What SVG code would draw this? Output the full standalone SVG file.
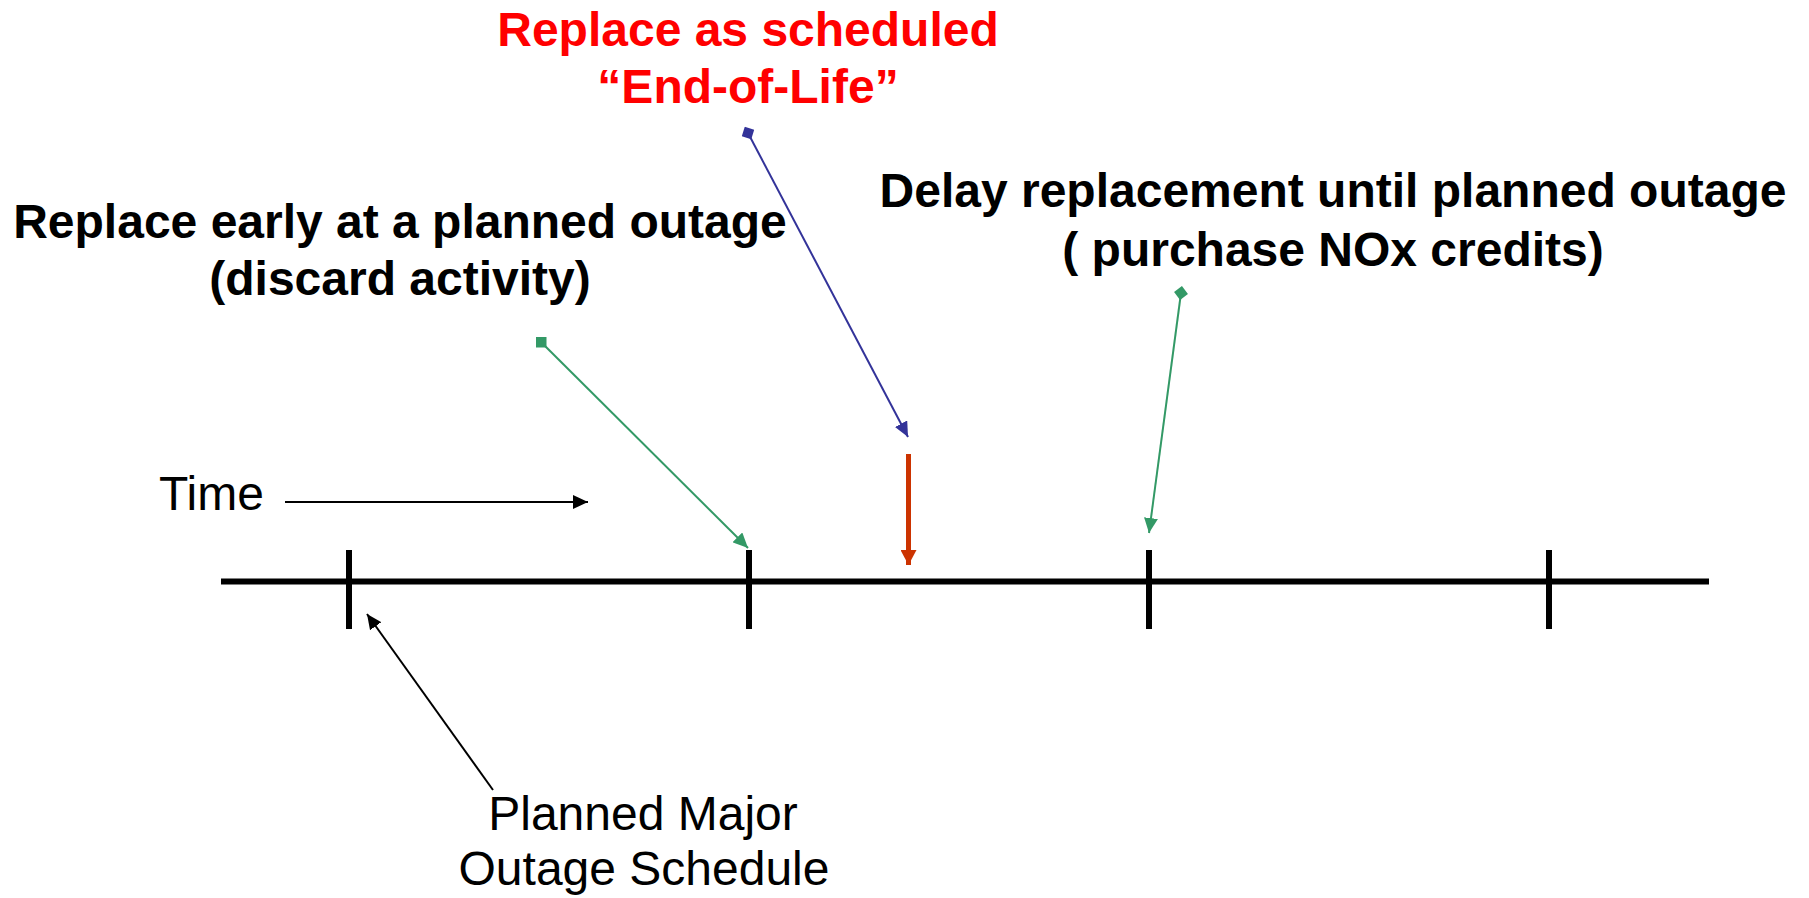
<svg xmlns="http://www.w3.org/2000/svg" width="1809" height="898" viewBox="0 0 1809 898">
  <style>
    text { font-family: "Liberation Sans", Arial, sans-serif; font-size: 48px; }
    .bold { font-weight: bold; fill: #000; text-anchor: middle; }
    .red { font-weight: bold; fill: #FF0000; text-anchor: middle; }
    .plain { fill: #000; }
    .axis { stroke: #000; stroke-width: 6; fill: none; }
    .thin { stroke-width: 2; fill: none; }
  </style>
  <defs>
    <marker id="tipBlack" markerUnits="userSpaceOnUse" markerWidth="16" markerHeight="14" refX="15" refY="7" orient="auto">
      <path d="M0,0 L15,7 L0,14 Z" fill="#000"/>
    </marker>
    <marker id="tipBlue" markerUnits="userSpaceOnUse" markerWidth="16" markerHeight="14" refX="15" refY="7" orient="auto">
      <path d="M0,0 L15,7 L0,14 Z" fill="#333399"/>
    </marker>
    <marker id="tipGreen" markerUnits="userSpaceOnUse" markerWidth="16" markerHeight="14" refX="15" refY="7" orient="auto">
      <path d="M0,0 L15,7 L0,14 Z" fill="#339966"/>
    </marker>
    <marker id="tipRed" markerUnits="userSpaceOnUse" markerWidth="16" markerHeight="16" refX="15" refY="8" orient="auto">
      <path d="M0,0 L15,8 L0,16 Z" fill="#CC3300"/>
    </marker>
    <marker id="diamondBlue" markerUnits="userSpaceOnUse" markerWidth="14" markerHeight="14" refX="7" refY="7" orient="auto">
      <path d="M0,7 L7,0 L14,7 L7,14 Z" fill="#333399"/>
    </marker>
    <marker id="diamondGreen" markerUnits="userSpaceOnUse" markerWidth="14" markerHeight="14" refX="7" refY="7" orient="auto">
      <path d="M0,7 L7,0 L14,7 L7,14 Z" fill="#339966"/>
    </marker>
    <marker id="squareGreen" markerUnits="userSpaceOnUse" markerWidth="11" markerHeight="11" refX="5.5" refY="5.5" orient="0">
      <rect x="0" y="0" width="11" height="11" fill="#339966"/>
    </marker>
  </defs>

  <!-- time axis with planned outage ticks -->
  <g id="timeline">
    <line class="axis" x1="221" y1="581.5" x2="1709" y2="581.5"/>
    <line class="axis" x1="349" y1="550" x2="349" y2="629"/>
    <line class="axis" x1="749" y1="550" x2="749" y2="629"/>
    <line class="axis" x1="1149" y1="550" x2="1149" y2="629"/>
    <line class="axis" x1="1549" y1="550" x2="1549" y2="629"/>
  </g>

  <g id="label-time">
    <text class="plain" x="159" y="510">Time</text>
  </g>

  <g id="label-end-of-life">
    <text class="red" x="748" y="46">Replace as scheduled</text>
    <text class="red" x="748" y="103">“End-of-Life”</text>
  </g>

  <g id="label-replace-early">
    <text class="bold" x="400" y="238">Replace early at a planned outage</text>
    <text class="bold" x="400" y="295">(discard activity)</text>
  </g>

  <g id="label-delay">
    <text class="bold" x="1333" y="207">Delay replacement until planned outage</text>
    <text class="bold" x="1333" y="266">( purchase NOx credits)</text>
  </g>

  <g id="label-outage-schedule">
    <text class="plain" x="643" y="830" text-anchor="middle">Planned Major</text>
    <text class="plain" x="644" y="885" text-anchor="middle">Outage Schedule</text>
  </g>

  <!-- connectors -->
  <g id="connectors">
    <line class="thin" stroke="#000" x1="285" y1="502" x2="588" y2="502" marker-end="url(#tipBlack)"/>
    <line class="thin" stroke="#000" x1="493" y1="790" x2="367" y2="614" marker-end="url(#tipBlack)"/>
    <line class="thin" stroke="#333399" x1="748" y1="133" x2="908" y2="437" marker-start="url(#diamondBlue)" marker-end="url(#tipBlue)"/>
    <line class="thin" stroke="#339966" x1="541" y1="342" x2="748" y2="548" marker-start="url(#squareGreen)" marker-end="url(#tipGreen)"/>
    <line class="thin" stroke="#339966" x1="1181" y1="293" x2="1149" y2="533" marker-start="url(#diamondGreen)" marker-end="url(#tipGreen)"/>
    <line stroke="#CC3300" stroke-width="5" x1="908.5" y1="454" x2="908.5" y2="565" marker-end="url(#tipRed)"/>
  </g>
</svg>
